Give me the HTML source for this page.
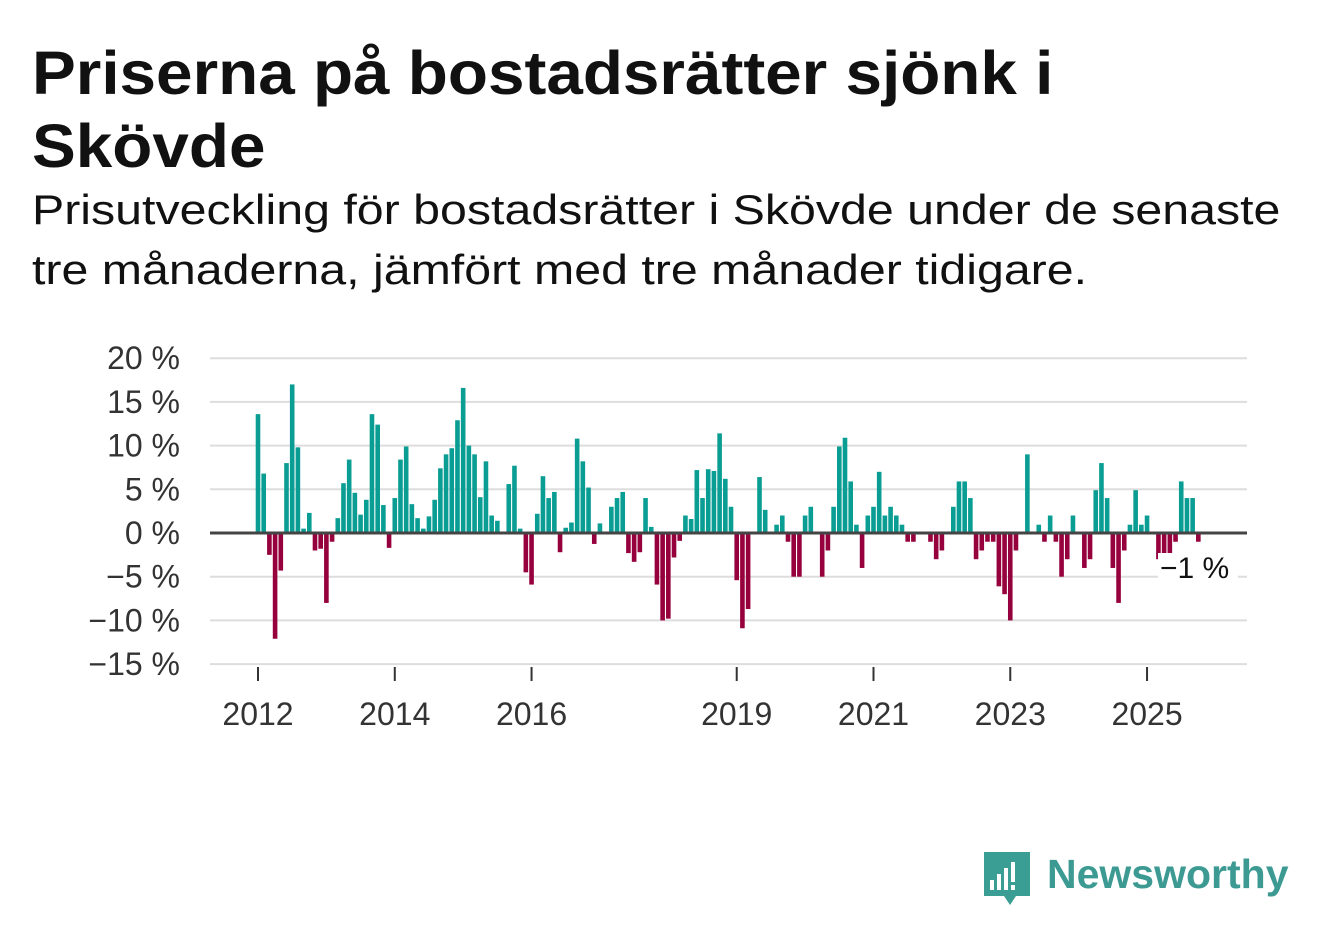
<!DOCTYPE html>
<html><head><meta charset="utf-8">
<style>
body{margin:0;width:1322px;height:939px;background:#fff;overflow:hidden;font-family:"Liberation Sans",sans-serif;}
#title{position:absolute;left:32px;top:37px;font-size:61px;font-weight:bold;line-height:73px;color:#111;white-space:nowrap;transform:scaleX(1.076);transform-origin:0 0;}
#subtitle{position:absolute;left:32px;top:180px;font-size:42px;line-height:60px;color:#111;white-space:nowrap;transform:scaleX(1.15);transform-origin:0 0;}
svg{position:absolute;left:0;top:0;}
</style></head>
<body>
<div id="title">Priserna på bostadsrätter sjönk i<br>Skövde</div>
<div id="subtitle">Prisutveckling för bostadsrätter i Skövde under de senaste<br>tre månaderna, jämfört med tre månader tidigare.</div>
<svg id="chart" width="1322" height="939"></svg>
<script>
const values = [13.6,6.8,-2.5,-12.1,-4.3,8.0,17.0,9.8,0.5,2.3,-2.0,-1.8,
-8.0,-1.0,1.7,5.7,8.4,4.6,2.1,3.8,13.6,12.4,3.2,-1.7,
4.0,8.4,9.9,3.3,1.7,0.5,1.9,3.8,7.4,9.0,9.7,12.9,
16.6,10.0,9.0,4.1,8.2,2.0,1.4,0,5.6,7.7,0.5,-4.5,
-5.9,2.2,6.5,4.0,4.7,-2.2,0.6,1.2,10.8,8.2,5.2,-1.25,
1.1,0,3.0,4.0,4.7,-2.3,-3.3,-2.2,4.0,0.7,-5.9,-10.0,
-9.8,-2.8,-0.9,2.0,1.6,7.2,4.0,7.3,7.1,11.4,6.2,3.0,
-5.4,-10.9,-8.7,0,6.4,2.65,0,0.95,2.0,-1.0,-5.0,-5.0,
2.0,3.0,0,-5.0,-2.0,3.0,9.9,10.9,5.9,0.95,-4.0,2.0,
3.0,7.0,2.0,3.0,2.0,0.95,-1.0,-1.0,0,0,-1.0,-3.0,
-2.0,0,3.0,5.9,5.9,4.0,-3.0,-2.0,-1.0,-1.0,-6.1,-7.0,
-10.0,-2.0,0,9.0,0,0.95,-1.0,2.0,-1.0,-5.0,-3.0,2.0,
0,-4.0,-3.0,4.9,8.0,4.0,-4.0,-8.0,-2.0,0.95,4.9,0.95,
2.0,0,-3.0,-3.1,-3.1,-1.0,5.9,4.0,4.0,-1.0];
const yTicks = [20,15,10,5,0,-5,-10,-15];
const xTickYears = [2012,2014,2016,2019,2021,2023,2025];
const startYear = 2012;
const lastLabel = "−1 %";

const NS="http://www.w3.org/2000/svg";
const svg=document.getElementById('chart');
const X0=258, MONTH=5.699, Y0=533, PER=8.74, LEFT=210, RIGHT=1247;
const xScale=i=>X0+i*MONTH;
const yScale=v=>Y0-v*PER;
function mk(tag,attrs){const e=document.createElementNS(NS,tag);for(const k in attrs)e.setAttribute(k,attrs[k]);svg.appendChild(e);return e;}

yTicks.forEach(t=>{
  if(t!==0){const g=mk('line',{x1:LEFT,x2:RIGHT,y1:yScale(t),y2:yScale(t),stroke:'#dddddd','stroke-width':2});
  
  }
  const lb=mk('text',{x:180,y:yScale(t)+11,'text-anchor':'end','font-size':32,fill:'#333','font-family':'Liberation Sans, sans-serif'});
  lb.textContent=(t<0?'−'+Math.abs(t):t)+' %';
  
  
});
values.forEach((v,i)=>{
  const y=yScale(Math.max(v,0)),h=Math.abs(yScale(v)-Y0);
  const r=mk('rect',{x:xScale(i)-2.3,y:y,width:4.6,height:h,fill:v>=0?'#0a9d93':'#96003c'});
  
  
});
const zl=mk('line',{x1:LEFT,x2:RIGHT,y1:Y0,y2:Y0,stroke:'#444','stroke-width':3});


xTickYears.forEach(yr=>{
  const x=xScale((yr-startYear)*12);
  const tk=mk('line',{x1:x,x2:x,y1:667,y2:681,stroke:'#333','stroke-width':2});
  
  
  const lb=mk('text',{x:x,y:725,'text-anchor':'middle','font-size':32,fill:'#333','font-family':'Liberation Sans, sans-serif'});
  lb.textContent=yr;
  
  
});
const bg=mk('rect',{x:1158,y:553,width:80,height:30,fill:'#fff'});


const ll=mk('text',{x:1160,y:578,'font-size':30,fill:'#111','font-family':'Liberation Sans, sans-serif'});
ll.textContent=lastLabel;


</script>
<svg width="1322" height="939" style="pointer-events:none">
  <path d="M984 852 h46 v44 h-14 l-6 9 l-6 -9 h-20 z" fill="#3a9e95"/>
  <rect x="990" y="880" width="4" height="10" fill="#fff"/>
  <rect x="997" y="874" width="4" height="16" fill="#fff"/>
  <rect x="1004" y="868" width="4" height="22" fill="#fff"/>
  <rect x="1011" y="862" width="4" height="20" fill="#fff"/>
  <rect x="1011" y="885" width="4" height="5" fill="#fff"/>
  <text x="1047" y="888" font-size="41" font-weight="bold" fill="#3c9a93" font-family="Liberation Sans, sans-serif">Newsworthy</text>
</svg>
</body></html>
